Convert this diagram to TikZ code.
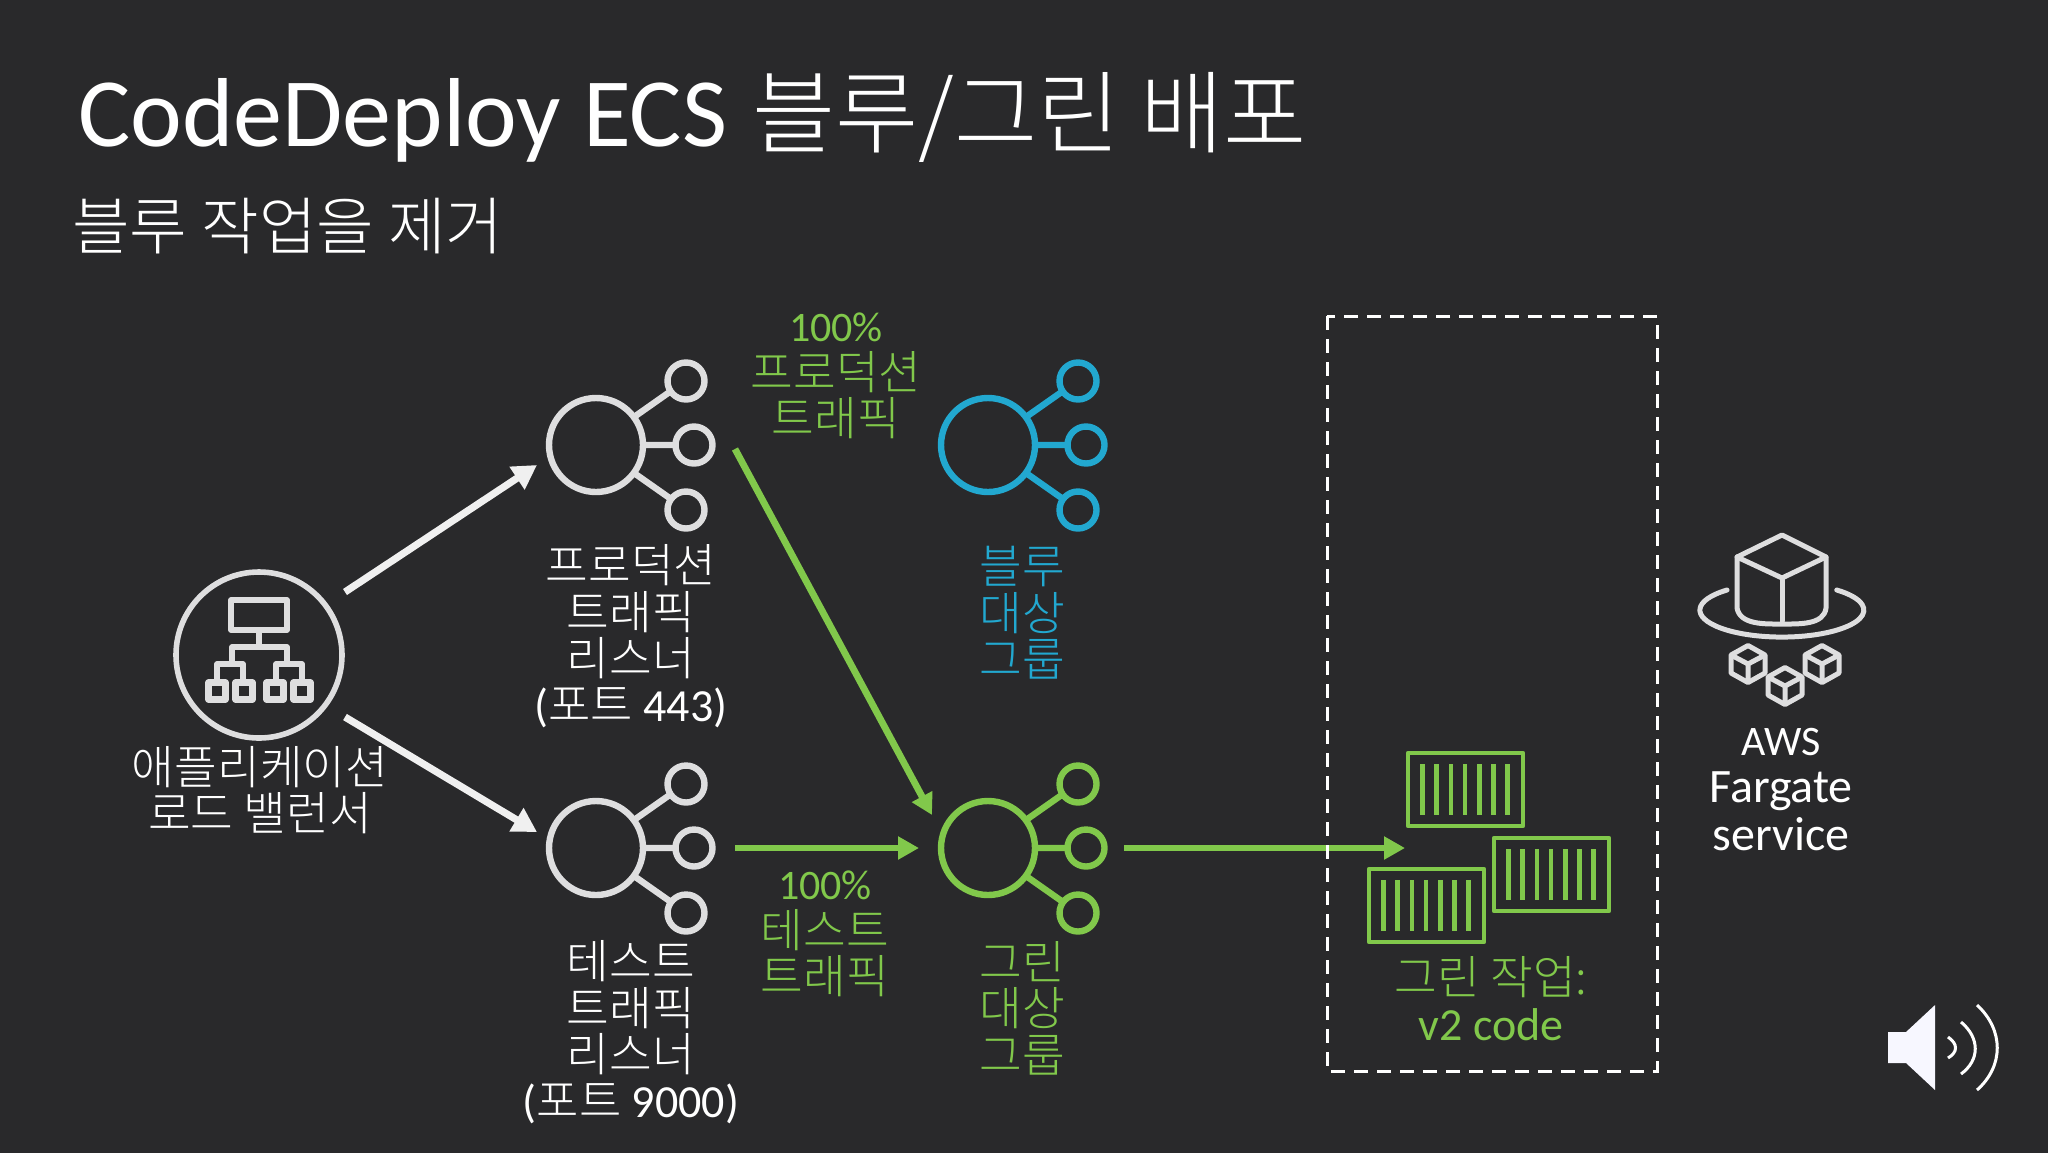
\documentclass[tikz,border=0pt]{standalone}
\usepackage{fontspec}
\usetikzlibrary{arrows.meta}
\setmainfont{Carlito}
\newfontfamily\kr[UprightFont={* Light}]{Noto Sans CJK KR}
\definecolor{bgc}{HTML}{29292B}
\definecolor{icong}{HTML}{DEDEDF}
\definecolor{grn}{HTML}{81C84B}
\definecolor{blu}{HTML}{22A8D0}
\tikzset{
  x=0.5pt,y=-0.5pt,
  hub/.pic={
    \draw[line width=3.2pt] (0,0) circle [radius=47];
    \foreach \a/\b in {90/-64,98/0,90/65}{\draw[line width=3.2pt] (\a,\b) circle [radius=18.5];}
    \draw[line width=3.2pt] (38,-28) -- (75,-54) (47,0) -- (79,0) (38,28) -- (75,54);
  },
  cube/.pic={
    \draw[line width=2.5pt,line join=round] (0,-18.5) -- (17,-9) -- (17,9) -- (0,18.5) -- (-17,9) -- (-17,-9) -- cycle;
    \draw[line width=2.5pt,line join=round] (-17,-9) -- (0,0) -- (17,-9) (0,0) -- (0,18.5);
  },
  crate/.pic={
    \draw[line width=2.3pt,line join=round] (0,0) rectangle (115,73);
    \foreach \i in {0,...,6}{\draw[line width=2.3pt] (14.5+14.2*\i,11) -- (14.5+14.2*\i,62);}
  },
  whitearrow/.style={draw=white!94!black,line width=3.6pt,-{Triangle[length=12pt,width=13pt]}},
  grnarrow/.style={draw=grn,line width=3.4pt,-{Triangle[length=10.5pt,width=11pt]}},
  lbl/.style={align=center,inner sep=0pt,font=\kr\fontsize{23.2}{23.2}\selectfont},
  lat/.style={align=center,inner sep=0pt,font=\fontsize{23}{23.2}\selectfont},
}
\begin{document}
\begin{tikzpicture}
\useasboundingbox (0,0) rectangle (2048,1152);
\fill[bgc] (-10,-10) rectangle (2058,1162);

% titles
\node[anchor=base west,inner sep=0pt,white,font=\fontsize{49}{49}\selectfont] (title) at (78,146) {CodeDeploy ECS\hspace{1.5pt} {\kr\fontsize{45.2}{45.2}\selectfont 블루/그린 배포}};
\node[anchor=base west,inner sep=0pt,white,font=\kr\fontsize{31.3}{31.3}\selectfont] (subtitle) at (72,249) {블루 작업을 제거};

% load balancer icon
\begin{scope}[icong,line width=2.8pt,line join=round]
\draw (259,655) circle [radius=83];
\draw (231,600) rectangle (287,630);
\draw (259,630) -- (259,647);
\draw (232,664) -- (232,647) -- (287,647) -- (287,664);
\draw (217,680) -- (217,664) -- (243,664) -- (243,680);
\draw (276,680) -- (276,664) -- (302,664) -- (302,680);
\foreach \a in {208.5,235.5,266.5,293.5}{\draw[line width=3.2pt] (\a,682.5) rectangle (\a+17,699.5);}
\end{scope}

% hubs
\pic[color=icong] at (596,445) {hub};
\pic[color=icong] at (596,848) {hub};
\pic[color=blu] at (988,445) {hub};
\pic[color=grn] at (988,848) {hub};

% connector ends
\coordinate (lbA) at (345,592);
\coordinate (lstA) at (537,465);
\coordinate (lbB) at (345,717);
\coordinate (lstB) at (537,832);
\coordinate (prodOut) at (735,449);
\coordinate (grnA) at (932,815);
\coordinate (testOut) at (735,848);
\coordinate (grnB) at (919,848);
\coordinate (grnOut) at (1124,848);
\coordinate (tasks) at (1405,848);

\draw[whitearrow] (lbA) -- (lstA);
\draw[whitearrow] (lbB) -- (lstB);
\draw[grnarrow] (prodOut) -- (grnA);
\draw[grnarrow] (testOut) -- (grnB);
\draw[grnarrow] (grnOut) -- (tasks);

% dashed box
\draw[white,line width=1.5pt,dash pattern=on 7pt off 4.5pt] (1327,316) rectangle (1657,1071);

% containers
\pic[color=grn] at (1408,753) {crate};
\pic[color=grn] at (1494,838) {crate};
\pic[color=grn] at (1369,869) {crate};

% labels
\node[lat,grn,font=\fontsize{21}{21}\selectfont] (pct1) at (836,327) {100\%};
\node[lbl,grn,anchor=north] (pt1) at (836,351) {프로덕션\\트래픽};
\node[lbl,white] (prodlst) at (631,612) {프로덕션\\트래픽\\리스너};
\node[white,inner sep=0pt,font=\fontsize{23}{23}\selectfont] (port1) at (631,708) {({\kr 포트} 443)};
\node[lbl,blu] (bluetg) at (1022,613) {블루\\대상\\그룹};
\node[lbl,white] (lb) at (260,790) {애플리케이션\\로드 밸런서};
\node[lbl,white] (testlst) at (631,1008) {테스트\\트래픽\\리스너};
\node[white,inner sep=0pt,font=\fontsize{23}{23}\selectfont] (port2) at (631,1104) {({\kr 포트} 9000)};
\node[lat,grn,font=\fontsize{21}{21}\selectfont] (pct2) at (825,885) {100\%};
\node[lbl,grn,anchor=north] (pt2) at (825,909) {테스트\\트래픽};
\node[lbl,grn] (grntg) at (1022,1008) {그린\\대상\\그룹};
\node[lbl,grn] (grntask) at (1491,977) {그린 작업:};
\node[lat,grn] (v2) at (1491,1025) {v2 code};
\node[lat,white,font=\fontsize{21}{21}\selectfont] (aws) at (1781,742) {AWS};
\node[lat,white,font=\fontsize{24}{24}\selectfont] (farg) at (1781,791) {Fargate};
\node[lat,white,font=\fontsize{24}{24}\selectfont] (serv) at (1781,834) {service};

% fargate icon
\begin{scope}[icong,line width=2.5pt,line join=round,line cap=round]
\draw (1782,535) -- (1737,557) -- (1782,578) -- (1826,557) -- cycle;
\draw (1737,557) -- (1737,608) .. controls (1740,625) and (1765,624) .. (1782,624) .. controls (1799,624) and (1824,625) .. (1826,608) -- (1826,557);
\draw (1782,578) -- (1782,621);
\draw (1727,590) arc [start angle=228,end angle=-48,x radius=82,y radius=27];
\end{scope}
\pic[color=icong] at (1748,664) {cube};
\pic[color=icong] at (1785,686) {cube};
\pic[color=icong] at (1822,664) {cube};

% speaker
\fill[white!97!blue] (1888,1032) -- (1906,1032) -- (1935,1005) -- (1935,1090) -- (1906,1063) -- (1888,1063) -- cycle;
\draw[white,line width=1.5pt] (1948,1037) .. controls (1958,1044) and (1958,1052) .. (1948,1058);
\draw[white,line width=1.5pt] (1961,1022) .. controls (1980,1038) and (1980,1060) .. (1961,1074);
\draw[white,line width=1.5pt] (1977,1005) .. controls (2004,1030) and (2004,1066) .. (1977,1090);
\end{tikzpicture}
\end{document}
